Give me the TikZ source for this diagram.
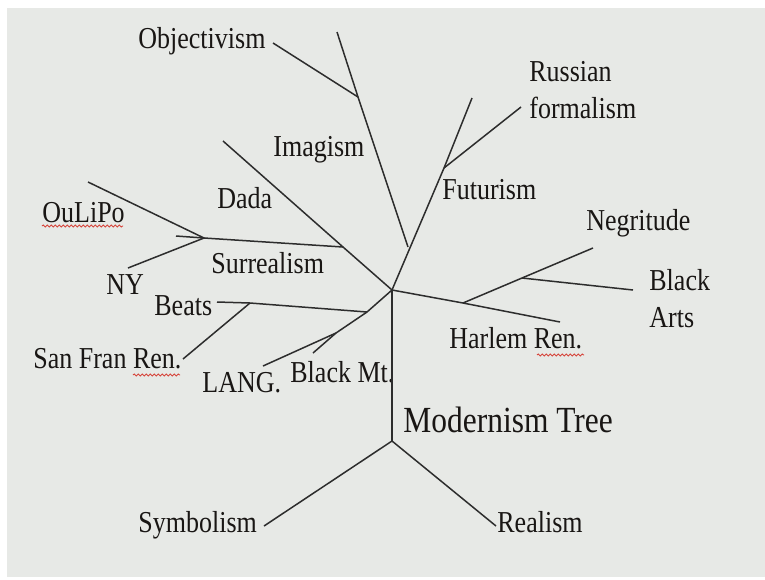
\documentclass[tikz,border=0pt]{standalone}
\usepackage{fontspec}
\setmainfont{Liberation Serif}[FakeStretch=0.855]
\usetikzlibrary{decorations.pathmorphing}
\definecolor{slidebg}{RGB}{231,233,230}
\definecolor{inkline}{RGB}{45,45,45}
\definecolor{inktext}{RGB}{25,22,20}
\definecolor{spellred}{RGB}{214,70,60}
\tikzset{
  branch/.style={draw=inkline, line width=0.75pt},
  lbl/.style={anchor=base west, inner sep=0pt, text=inktext,
    font=\fontsize{15.2}{18.5}\selectfont},
  biglbl/.style={lbl, font=\fontsize{18.4}{22}\selectfont},
  spell/.style={draw=spellred, line width=0.45pt,
    decorate, decoration={snake, amplitude=0.5pt, segment length=2pt}}
}

\begin{document}
\begin{tikzpicture}[x=0.5pt, y=-0.5pt]
\useasboundingbox (0,0) rectangle (765,579);
\fill [white] (0,0) rectangle (765,579);
\fill [slidebg] (7,8) rectangle (765,577);

\coordinate (root) at (392,290);
\coordinate (base) at (392,441);
\coordinate (symEnd) at (264,526);
\coordinate (realEnd) at (496,526);

\coordinate (futTop) at (472,98);
\coordinate (futJoin) at (444,168);
\coordinate (rusEnd) at (521,107);
\coordinate (imgTop) at (337,32);
\coordinate (objJoin) at (358,97);
\coordinate (objEnd) at (273,43);
\coordinate (imgJoin) at (408,247);

\coordinate (dadaTop) at (223,141);
\coordinate (surJoin) at (343,247);
\coordinate (ouJoin) at (204,238);
\coordinate (ouStub) at (176,236);
\coordinate (ouEnd) at (88,182);
\coordinate (nyEnd) at (128,268);

\coordinate (beatsJoin) at (367,312);
\coordinate (beatsEnd) at (217,302);
\coordinate (sfJoin) at (250,303);
\coordinate (sfEnd) at (183,359);
\coordinate (bmJoin) at (336,333);
\coordinate (bmEnd) at (313,353);
\coordinate (langEnd) at (263,366);

\coordinate (harEnd) at (560,322);
\coordinate (negJoin) at (463,303);
\coordinate (negEnd) at (593,248);
\coordinate (baJoin) at (522,278);
\coordinate (baEnd) at (633,290);

\node [lbl] (objectivism) at (138,48) {Objectivism};
\node [lbl] (imagism) at (273,156) {Imagism};
\node [lbl, align=left] (russian) at (529,118) {Russian\\formalism};
\node [lbl] (futurism) at (442,199) {Futurism};
\node [lbl] (dada) at (217,208) {Dada};
\node [lbl] (oulipo) at (42,222) {OuLiPo};
\node [lbl] (surrealism) at (211,273) {Surrealism};
\node [lbl] (ny) at (106,294) {NY};
\node [lbl] (beats) at (154,315) {Beats};
\node [lbl] (sanfran) at (33,368) {San Fran Ren.};
\node [lbl] (lang) at (202,392) {LANG.};
\node [lbl] (blackmt) at (290,382) {Black Mt.};
\node [lbl] (negritude) at (586,230) {Negritude};
\node [lbl, align=left] (blackarts) at (649,327) {Black\\Arts};
\node [lbl] (harlem) at (449,348) {Harlem Ren.};
\node [biglbl] (modernism) at (403,432) {Modernism Tree};
\node [lbl] (symbolism) at (138,532) {Symbolism};
\node [lbl] (realism) at (497,532) {Realism};

\draw [spell] (42,226) -- (123,226);
\draw [spell] (133,375) -- (180,375);
\draw [spell] (537,355) -- (584,355);

\draw [branch] (root) -- (base);
\draw [branch] (symEnd) -- (base) -- (realEnd);

\draw [branch] (root) -- (futJoin) -- (futTop);
\draw [branch] (futJoin) -- (rusEnd);
\draw [branch] (imgJoin) -- (objJoin) -- (imgTop);
\draw [branch] (objJoin) -- (objEnd);

\draw [branch] (root) -- (surJoin) -- (dadaTop);
\draw [branch] (surJoin) -- (ouJoin) -- (ouStub);
\draw [branch] (ouEnd) -- (ouJoin) -- (nyEnd);

\draw [branch] (root) -- (beatsJoin) -- (bmJoin) -- (langEnd);
\draw [branch] (bmJoin) -- (bmEnd);
\draw [branch] (beatsJoin) -- (sfJoin) -- (beatsEnd);
\draw [branch] (sfJoin) -- (sfEnd);

\draw [branch] (root) -- (negJoin) -- (harEnd);
\draw [branch] (negJoin) -- (baJoin) -- (negEnd);
\draw [branch] (baJoin) -- (baEnd);
\end{tikzpicture}
\end{document}
